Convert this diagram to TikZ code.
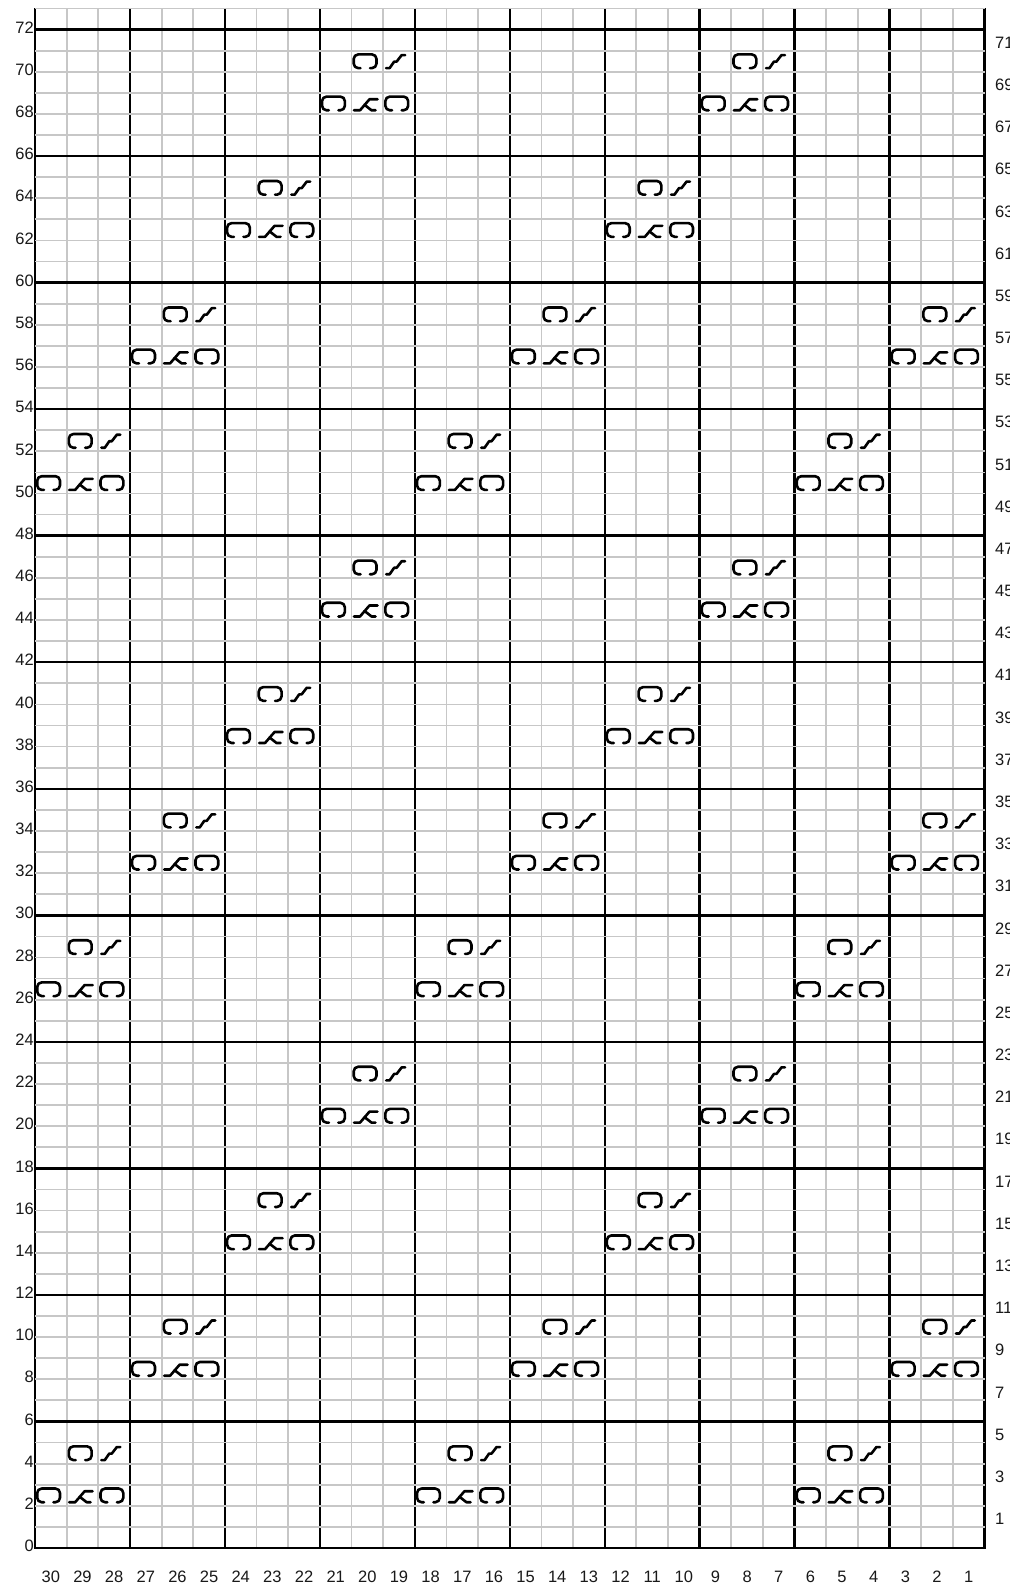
\documentclass[tikz,border=0pt]{standalone}
\usepackage{fontspec}
\setmainfont{Liberation Sans}
\begin{document}
\begin{tikzpicture}[x=1pt,y=-1pt,
  gthin/.style={draw=black!22, line width=1.8pt},
  gthick/.style={draw=black, line width=2.4pt},
  sym/.style={draw=black, line width=2.6pt, line cap=round, line join=round},
  lab/.style={font=\fontsize{16.5}{16.5}\selectfont, inner sep=0pt, text=black!90},
  loopst/.pic={\draw[sym, rounded corners=4.5pt] (9,17.5) -| (2.2,3.8) -| (25,17.5) -- (18.5,17.5);},
  slashst/.pic={\draw[sym] (3,17.5) -- (6.5,17.5) -- (11,11) -- (13.5,11) -- (18.5,4.5) -- (22,4.5);},
  decst/.pic={\draw[sym] (2.5,17.5) -- (8.5,17.5) -- (18,6.5) -- (26,6.5); \draw[sym] (13,12) -- (20,17.5) -- (24,17.5);}
]
\useasboundingbox[fill=white] (0,0) rectangle (1009,1587);
% thin vertical grid lines
\foreach \i in {0,...,30} {
  \draw[gthin] ({35+\i*31.65},8.4) -- ({35+\i*31.65},1548);
}
% thick vertical lines
\foreach \i in {0,3,...,30} {
  \draw[gthick] ({35+\i*31.65},8.4) -- ({35+\i*31.65},1548);
}
% thin horizontal grid lines
\foreach \r in {1,...,73} {
  \draw[gthin] (35,{1548-\r*21.09}) -- (985,{1548-\r*21.09});
}
% thick horizontal lines
\foreach \r in {0,6,...,72} {
  \draw[gthick] (33.8,{1548-\r*21.09}) -- (986.2,{1548-\r*21.09});
}
% stitch motifs
\foreach \b in {0,...,11} {
  \pgfmathtruncatemacro\m{mod(\b,4)}
  \foreach \j in {0,1,2} {
    \pgfmathtruncatemacro\k{\m+4*\j}
    \ifnum\k<10
      \pic at ({35+(3*\k)*31.65},{1548-(6*\b+3)*21.09}) {loopst};
      \pic at ({35+(3*\k+1)*31.65},{1548-(6*\b+3)*21.09}) {decst};
      \pic at ({35+(3*\k+2)*31.65},{1548-(6*\b+3)*21.09}) {loopst};
      \pic at ({35+(3*\k+1)*31.65},{1548-(6*\b+5)*21.09}) {loopst};
      \pic at ({35+(3*\k+2)*31.65},{1548-(6*\b+5)*21.09}) {slashst};
    \fi
  }
}
% row numbers
\foreach \r in {0,2,...,72} {
  \node[lab, anchor=east] (L\r) at (34,{1548-\r*21.09-2}) {\r};
}
\foreach \r in {1,3,...,71} {
  \node[lab, anchor=west] (R\r) at (995,{1548-\r*21.09-8}) {\r};
}
% column numbers
\foreach \c in {1,...,30} {
  \node[lab] (C\c) at ({35+(30.5-\c)*31.65},1577) {\c};
}
\end{tikzpicture}
\end{document}
